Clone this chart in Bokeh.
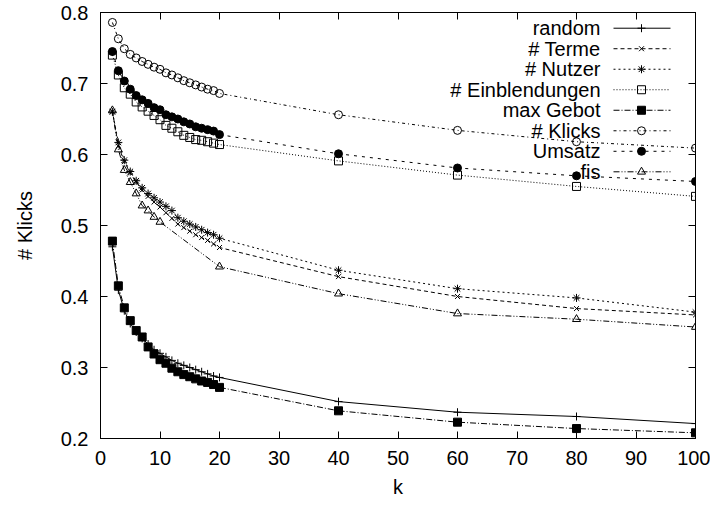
from bokeh.plotting import figure
from bokeh.models import LinearAxis, Range1d, FixedTicker
from bokeh.core.properties import value
from bokeh.embed import file_html
from bokeh.resources import INLINE

# ---------------- data ----------------
k_main = list(range(2, 21)) + [40, 60, 80, 100]
k_fis = list(range(2, 11)) + [20, 40, 60, 80, 100]

random_vals = [0.470, 0.409, 0.380, 0.362, 0.350, 0.341, 0.333, 0.325, 0.320, 0.315,
               0.310, 0.306, 0.303, 0.300, 0.297, 0.294, 0.291, 0.288, 0.286,
               0.252, 0.237, 0.231, 0.221]
terme_vals = [0.661, 0.612, 0.590, 0.574, 0.561, 0.550, 0.541, 0.533, 0.526, 0.518,
              0.510, 0.502, 0.497, 0.492, 0.487, 0.483, 0.479, 0.474, 0.469,
              0.428, 0.400, 0.383, 0.374]
nutzer_vals = [0.660, 0.617, 0.592, 0.576, 0.563, 0.553, 0.545, 0.539, 0.533, 0.527,
               0.521, 0.511, 0.506, 0.502, 0.498, 0.494, 0.490, 0.487, 0.482,
               0.437, 0.411, 0.398, 0.378]
einbl_vals = [0.740, 0.712, 0.694, 0.685, 0.674, 0.667, 0.661, 0.655, 0.649, 0.641,
              0.637, 0.632, 0.627, 0.624, 0.621, 0.620, 0.618, 0.616, 0.614,
              0.591, 0.571, 0.555, 0.541]
gebot_vals = [0.478, 0.415, 0.384, 0.366, 0.352, 0.343, 0.329, 0.319, 0.311, 0.306,
              0.299, 0.294, 0.290, 0.287, 0.284, 0.281, 0.279, 0.276, 0.272,
              0.239, 0.223, 0.214, 0.208]
klicks_vals = [0.786, 0.763, 0.749, 0.741, 0.736, 0.731, 0.727, 0.723, 0.720, 0.715,
               0.712, 0.708, 0.704, 0.701, 0.698, 0.695, 0.692, 0.690, 0.686,
               0.656, 0.634, 0.618, 0.609]
umsatz_vals = [0.745, 0.718, 0.7035, 0.692, 0.683, 0.677, 0.672, 0.666, 0.663, 0.656,
               0.653, 0.650, 0.646, 0.643, 0.639, 0.637, 0.635, 0.633, 0.628,
               0.601, 0.581, 0.570, 0.562]
fis_vals = [0.662, 0.607, 0.578, 0.561, 0.545, 0.528, 0.521, 0.512, 0.505,
            0.442, 0.404, 0.376, 0.368, 0.357]

x_ticks = [0, 10, 20, 30, 40, 50, 60, 70, 80, 90, 100]
y_ticks = [0.2, 0.3, 0.4, 0.5, 0.6, 0.7, 0.8]

FONT = "Liberation Sans"

series = [
    # label, x, y, dash, marker, size, filled
    ("random", k_main, random_vals, "solid", "cross", 8, False),
    ("# Terme", k_main, terme_vals, "4 3", "x", 7, False),
    ("# Nutzer", k_main, nutzer_vals, "2 3", "asterisk", 8, False),
    ("# Einblendungen", k_main, einbl_vals, "1 2", "square", 8, False),
    ("max Gebot", k_main, gebot_vals, "6 2 1 2", "square", 8, True),
    ("# Klicks", k_main, klicks_vals, "3 3 1 3", "circle", 8, False),
    ("Umsatz", k_main, umsatz_vals, "3 5", "circle", 8, True),
    ("fis", k_fis, fis_vals, "6 2 1 2 1 2", "triangle", 8, False),
]

# ---------------- layout ----------------
W, H = 710, 500
FL, FT, FW, FH = 100, 12, 595, 434   # frame left/top/width/height (px)

p = figure(width=W, height=H, output_backend="svg", toolbar_location=None,
           x_range=Range1d(0, 100), y_range=Range1d(0.2, 0.8),
           min_border_left=FL, min_border_right=W - FL - FW,
           min_border_top=FT, min_border_bottom=H - FT - FH)
p.background_fill_color = "white"
p.border_fill_color = "white"
p.outline_line_color = "black"
p.outline_line_width = 1
p.xgrid.visible = False
p.ygrid.visible = False

def style_axis(ax, ticks, show_labels=True):
    ax.ticker = FixedTicker(ticks=ticks)
    ax.major_tick_in = 7
    ax.major_tick_out = 0
    ax.minor_tick_line_color = None
    ax.axis_line_color = "black"
    ax.major_tick_line_color = "black"
    ax.major_label_text_font = FONT
    if show_labels:
        ax.major_label_text_font_size = "20px"
        ax.major_label_text_color = "black"
    else:
        ax.major_label_text_font_size = "1px"
        ax.major_label_text_color = None
        ax.major_label_standoff = 0
    ax.axis_label_text_font = FONT
    ax.axis_label_text_font_size = "20px"
    ax.axis_label_text_font_style = "normal"
    ax.axis_label_text_color = "black"

style_axis(p.xaxis[0], x_ticks)
style_axis(p.yaxis[0], y_ticks)
p.xaxis[0].axis_label = "k"
p.yaxis[0].axis_label = "# Klicks"
p.xaxis[0].major_label_standoff = 12
p.yaxis[0].major_label_standoff = 12
p.xaxis[0].axis_label_standoff = 8
p.yaxis[0].axis_label_standoff = 22

top_ax = LinearAxis()
style_axis(top_ax, x_ticks, show_labels=False)
p.add_layout(top_ax, "above")
right_ax = LinearAxis()
style_axis(right_ax, y_ticks, show_labels=False)
p.add_layout(right_ax, "right")

def px2x(px):
    return (px - FL) / FW * 100.0

def px2y(py):
    return 0.8 - (py - FT) / FH * 0.6

def add_marker(xs, ys, marker, size, filled):
    p.scatter(xs, ys, marker=marker, size=size, line_color="black", line_width=1,
              fill_color="black" if filled else "white",
              fill_alpha=1.0 if filled else 0.0)

for i, (label, xs, ys, dash, marker, size, filled) in enumerate(series):
    p.line(xs, ys, line_color="black", line_width=1, line_dash=dash)
    add_marker(xs, ys, marker, size, filled)
    # legend entry (gnuplot style: text right-aligned, sample to the right)
    row_y = px2y(28 + 20.9 * i)
    p.text(x=[px2x(600)], y=[row_y], text=[label], text_align="right",
           text_baseline="middle", text_font=value(FONT), text_font_size="20px",
           text_color="black")
    p.line([px2x(613), px2x(670)], [row_y, row_y], line_color="black",
           line_width=1, line_dash=dash)
    add_marker([px2x(641)], [row_y], marker, size, filled)

open("out.html", "w").write(file_html(p, INLINE))
